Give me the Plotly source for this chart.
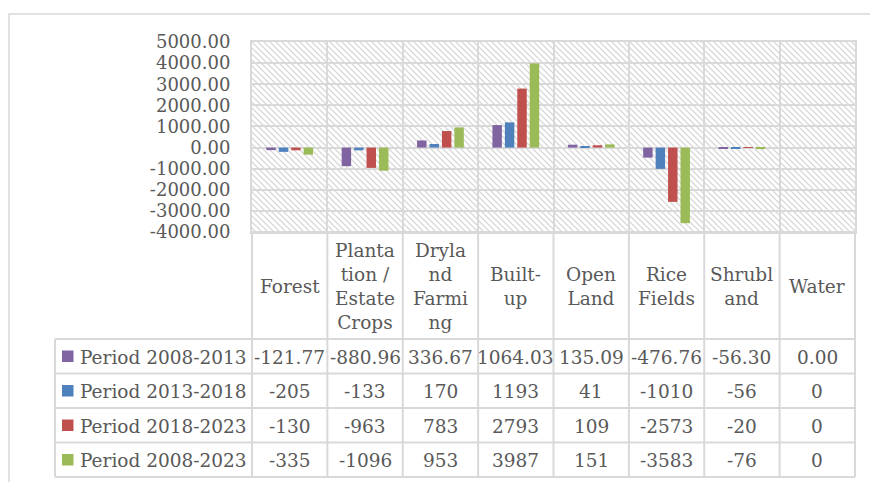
import base64
import plotly.graph_objects as go

# ---------------- data ----------------
categories = ["Forest", "Plantation / Estate Crops", "Dryland Farming", "Built-up",
              "Open Land", "Rice Fields", "Shrubland", "Water"]
header_labels = ["Forest", "Planta<br>tion /<br>Estate<br>Crops", "Dryla<br>nd<br>Farmi<br>ng",
                 "Built-<br>up", "Open<br>Land", "Rice<br>Fields", "Shrubl<br>and", "Water"]
series_names = ["Period 2008-2013", "Period 2013-2018", "Period 2018-2023", "Period 2008-2023"]
p_2008_2013 = [-121.77, -880.96, 336.67, 1064.03, 135.09, -476.76, -56.30, 0.00]
p_2013_2018 = [-205, -133, 170, 1193, 41, -1010, -56, 0]
p_2018_2023 = [-130, -963, 783, 2793, 109, -2573, -20, 0]
p_2008_2023 = [-335, -1096, 953, 3987, 151, -3583, -76, 0]
series_values = [p_2008_2013, p_2013_2018, p_2018_2023, p_2008_2023]
value_decimals = [2, 0, 0, 0]
y_ticks = [5000, 4000, 3000, 2000, 1000, 0, -1000, -2000, -3000, -4000]
y_tick_labels = [f"{v:.2f}" for v in y_ticks]

# ---------------- style ----------------
colors = ["#8064A2", "#4F81BD", "#C0504D", "#9BBB59"]
W, H = 870, 482
FONT = "DejaVu Serif"
TXT = "#595959"
GRID = "#d9d9d9"

# layout in pixels
PX0, PX1 = 252, 855     # plot area left/right
PY0, PY1 = 42, 232      # plot area top/bottom
TAB_LEFT = 55           # legend column left edge
HDR_BOTTOM = 339        # bottom of category header row
ROW_H = 34.5
N_ROWS = len(series_names)


def fx(px):
    return px / W


def fy(py):
    return 1 - py / H


fig = go.Figure()
for name, vals, col in zip(series_names, series_values, colors):
    fig.add_trace(go.Bar(x=categories, y=vals, name=name, marker_color=col,
                         marker_line_width=0, showlegend=False))

# hatch background image (decoration)
pw, ph = PX1 - PX0, PY1 - PY0
svg = (f'<svg xmlns="http://www.w3.org/2000/svg" width="{pw}" height="{ph}" '
       f'viewBox="0 0 {pw} {ph}" preserveAspectRatio="none">'
       '<defs><pattern id="h" width="6" height="6" patternUnits="userSpaceOnUse">'
       '<path d="M-1,-1 L7,7 M-1,5 L1,7 M5,-1 L7,1" stroke="#d8d8d8" stroke-width="1.3"/>'
       '</pattern></defs><rect width="100%" height="100%" fill="url(#h)"/></svg>')
src = "data:image/svg+xml;base64," + base64.b64encode(svg.encode()).decode()

shapes = []
annotations = []

# outer chart border
shapes.append(dict(type="path", xref="paper", yref="paper",
                   path=f"M {fx(9)},{fy(H)} L {fx(9)},{fy(14)} L {fx(W)},{fy(14)}",
                   line=dict(color=GRID, width=1.5)))

n = len(categories)
col_w = (PX1 - PX0) / n
row_tops = [HDR_BOTTOM + i * ROW_H for i in range(N_ROWS + 1)]
TAB_BOTTOM = row_tops[-1]

# table horizontal lines
for yy in row_tops:
    shapes.append(dict(type="line", xref="paper", yref="paper",
                       x0=fx(TAB_LEFT), x1=fx(PX1), y0=fy(yy), y1=fy(yy),
                       line=dict(color=GRID, width=2)))
shapes.append(dict(type="line", xref="paper", yref="paper",
                   x0=fx(PX0), x1=fx(PX1), y0=fy(PY1), y1=fy(PY1),
                   line=dict(color=GRID, width=2)))
# table vertical lines
shapes.append(dict(type="line", xref="paper", yref="paper",
                   x0=fx(TAB_LEFT), x1=fx(TAB_LEFT), y0=fy(HDR_BOTTOM), y1=fy(TAB_BOTTOM),
                   line=dict(color=GRID, width=2)))
for i in range(n + 1):
    xx = PX0 + i * col_w
    shapes.append(dict(type="line", xref="paper", yref="paper",
                       x0=fx(xx), x1=fx(xx), y0=fy(PY1), y1=fy(TAB_BOTTOM),
                       line=dict(color=GRID, width=2)))

# header labels
for i, lab in enumerate(header_labels):
    annotations.append(dict(xref="paper", yref="paper", x=fx(PX0 + (i + 0.5) * col_w),
                            y=fy((PY1 + HDR_BOTTOM) / 2 + 1), text=lab, showarrow=False,
                            xanchor="center", yanchor="middle", align="center",
                            font=dict(family=FONT, size=18.5, color=TXT)))

# data rows + legend
for r, (name, vals, col, dec) in enumerate(zip(series_names, series_values, colors, value_decimals)):
    yc = (row_tops[r] + row_tops[r + 1]) / 2
    shapes.append(dict(type="rect", xref="paper", yref="paper",
                       x0=fx(62), x1=fx(73.5), y0=fy(yc - 5.75), y1=fy(yc + 5.75),
                       fillcolor=col, line=dict(width=0)))
    annotations.append(dict(xref="paper", yref="paper", x=fx(78), y=fy(yc + 1),
                            text=name, showarrow=False, xanchor="left", yanchor="middle",
                            font=dict(family=FONT, size=18.5, color=TXT)))
    for i, v in enumerate(vals):
        annotations.append(dict(xref="paper", yref="paper", x=fx(PX0 + (i + 0.5) * col_w),
                                y=fy(yc + 1), text=f"{v:.{dec}f}", showarrow=False,
                                xanchor="center", yanchor="middle",
                                font=dict(family=FONT, size=18.5, color=TXT)))

fig.update_layout(
    width=W, height=H,
    margin=dict(l=0, r=0, t=0, b=0, pad=0, autoexpand=False),
    paper_bgcolor="white", plot_bgcolor="rgba(0,0,0,0)",
    barmode="group", bargap=0.34, bargroupgap=0.24,
    showlegend=False,
    xaxis=dict(domain=[fx(PX0), fx(PX1)], type="category", tickson="boundaries",
               showgrid=True, gridcolor=GRID, gridwidth=2, showticklabels=False,
               ticks="", showline=True, mirror=True, linecolor=GRID, linewidth=2,
               zeroline=False, fixedrange=True, automargin=False),
    yaxis=dict(domain=[fy(PY1), fy(PY0)], range=[-4000, 5000],
               tickvals=y_ticks, ticktext=y_tick_labels, ticks="",
               ticklabelstandoff=16,
               tickfont=dict(family=FONT, size=18, color=TXT),
               showgrid=True, gridcolor=GRID, gridwidth=2,
               zeroline=True, zerolinecolor=GRID, zerolinewidth=2,
               showline=True, mirror=True, linecolor=GRID, linewidth=2, fixedrange=True,
               automargin=False),
    images=[dict(source=src, xref="paper", yref="paper", x=fx(PX0), y=fy(PY0),
                 sizex=fx(PX1) - fx(PX0), sizey=fy(PY0) - fy(PY1), sizing="stretch",
                 xanchor="left", yanchor="top", layer="below")],
    shapes=shapes,
    annotations=annotations,
)

fig.write_html("out.html", config={"displayModeBar": False},
               post_script="document.body.style.margin='0';")
